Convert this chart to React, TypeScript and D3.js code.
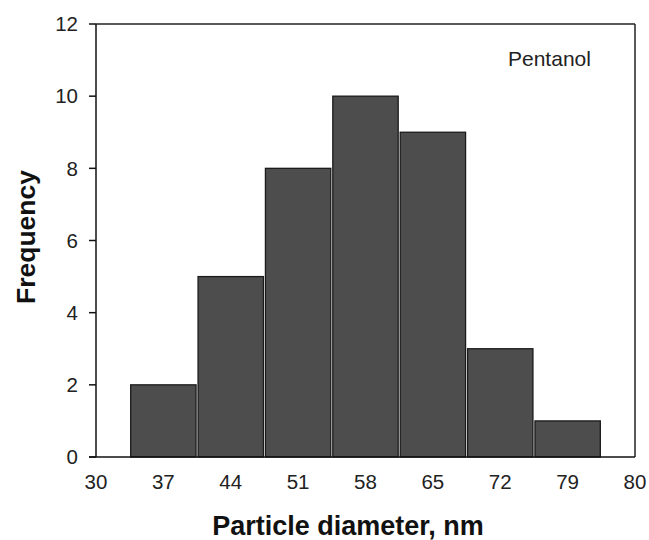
import React from "react";
import * as d3 from "d3";

const tickLabels = ["30", "37", "44", "51", "58", "65", "72", "79", "80"];
const binCenters = [37, 44, 51, 58, 65, 72, 79];
const frequencies = [2, 5, 8, 10, 9, 3, 1];
const yTicks = [0, 2, 4, 6, 8, 10, 12];

const W = 649;
const H = 540;
const M = { left: 96, right: 635, top: 24, bottom: 457 };
const FONT = "'Liberation Sans', Arial, sans-serif";

export default function App() {
  const x = d3.scaleLinear().domain([0, tickLabels.length - 1]).range([M.left, M.right]);
  const y = d3.scaleLinear().domain([0, 12]).range([M.bottom, M.top]);
  const step = x(1) - x(0);

  return (
    <svg
      width={W}
      height={H}
      style={{ position: "absolute", left: 0, top: 0, background: "#fff" }}
      fontFamily={FONT}
    >
      <rect x={0} y={0} width={W} height={H} fill="#fff" />
      {/* bars */}
      {frequencies.map((f, i) => {
        const idx = tickLabels.indexOf(String(binCenters[i]));
        const cx = x(idx);
        return (
          <rect
            key={i}
            x={cx - step / 2 + 1}
            y={y(f)}
            width={step - 2}
            height={y(0) - y(f)}
            fill="#4d4d4d"
            stroke="#1a1a1a"
            strokeWidth={1.3}
          />
        );
      })}
      {/* frame */}
      <line x1={M.left} x2={M.right} y1={M.top} y2={M.top} stroke="#222" strokeWidth={1.5} />
      <line x1={M.right} x2={M.right} y1={M.top} y2={M.bottom} stroke="#222" strokeWidth={1.5} />
      <line x1={M.left} x2={M.left} y1={M.top} y2={M.bottom} stroke="#111" strokeWidth={1.5} />
      <line x1={M.left - 7} x2={M.right} y1={M.bottom} y2={M.bottom} stroke="#111" strokeWidth={1.5} />
      {/* y ticks */}
      {yTicks.map((t) => (
        <g key={t}>
          <line x1={M.left - 7} x2={M.left} y1={y(t)} y2={y(t)} stroke="#111" strokeWidth={1.5} />
          <text
            x={M.left - 18}
            y={y(t)}
            dy="0.35em"
            textAnchor="end"
            fontSize={20.5}
            fill="#222"
          >
            {t}
          </text>
        </g>
      ))}
      {/* x tick labels */}
      {tickLabels.map((l, i) => (
        <text key={i} x={x(i)} y={489} textAnchor="middle" fontSize={20.5} fill="#222">
          {l}
        </text>
      ))}
      {/* axis titles */}
      <text x={348} y={535} textAnchor="middle" fontSize={27} fontWeight="bold" fill="#111">
        Particle diameter, nm
      </text>
      <text
        transform={`translate(35,${237}) rotate(-90)`}
        textAnchor="middle"
        fontSize={26.5}
        fontWeight="bold"
        fill="#111"
      >
        Frequency
      </text>
      <text x={508} y={66} fontSize={21} fill="#222">
        Pentanol
      </text>
    </svg>
  );
}
